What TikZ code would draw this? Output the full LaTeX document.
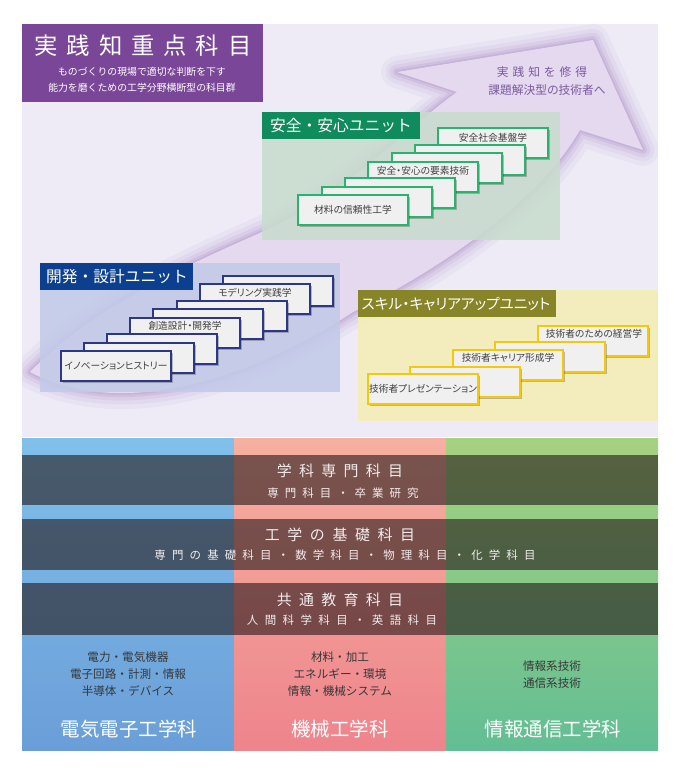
\documentclass[tikz,border=0pt]{standalone}
\usepackage{fontspec}
\setmainfont{Noto Sans CJK JP}
\newfontfamily\jpprop{Noto Sans CJK JP}[RawFeature=+palt]
\usetikzlibrary{shadows}

\definecolor{lavanda}{RGB}{238,235,246}
\definecolor{violaTit}{RGB}{122,70,152}
\definecolor{violaFr}{RGB}{150,100,180}
\definecolor{violaTesto}{RGB}{122,90,158}
\definecolor{frecciaFill}{RGB}{229,217,239}
\definecolor{pannV}{RGB}{200,220,206}
\definecolor{pannB}{RGB}{194,202,232}
\definecolor{pannY}{RGB}{244,237,182}
\definecolor{testV}{RGB}{16,140,92}
\definecolor{testB}{RGB}{12,64,142}
\definecolor{testY}{RGB}{135,133,40}
\definecolor{bordoV}{RGB}{40,180,110}
\definecolor{bordoB}{RGB}{45,55,135}
\definecolor{bordoY}{RGB}{245,200,10}
\definecolor{bluTop}{RGB}{128,192,234}
\definecolor{bluBot}{RGB}{106,158,216}
\definecolor{rosaTop}{RGB}{246,176,160}
\definecolor{rosaBot}{RGB}{238,132,140}
\definecolor{verdeTop}{RGB}{166,210,128}
\definecolor{verdeBot}{RGB}{98,190,148}
\definecolor{scuro}{RGB}{33,20,20}
\definecolor{testoChiaro}{RGB}{242,236,236}

% testo con spaziatura fra i caratteri
\newcommand{\spaziato}[2]{\def\spgap{#1}\spaziatoA#2\relax}
\def\spaziatoA#1{\ifx#1\relax\unskip\else#1\hskip\spgap\relax\expandafter\spaziatoA\fi}

\tikzset{
  carta/.style={draw, line width=1.1pt, fill=black!6, inner sep=0pt,
    minimum width=82.5pt, minimum height=22.5pt,
    drop shadow={shadow xshift=1.8pt, shadow yshift=-1.8pt, opacity=.3, fill=black!80}},
  cartaV/.style={carta, draw=bordoV},
  cartaB/.style={carta, draw=bordoB},
  cartaY/.style={carta, draw=bordoY},
  cartatesto/.style={inner sep=0pt, text=black!75, font=\jpprop\fontsize{7.3pt}{9pt}\selectfont},
  titolounita/.style={inner sep=0pt, text=white, font=\fontsize{11.8pt}{14pt}\selectfont},
  bagliore/.style={draw=violaFr, line join=round},
  fascia/.style={fill=scuro, fill opacity=.59},
  fasciatit/.style={inner sep=0pt, text=testoChiaro, font=\fontsize{11.2pt}{13pt}\selectfont},
  fasciasub/.style={inner sep=0pt, text=testoChiaro, font=\fontsize{8.6pt}{10pt}\selectfont},
  materie/.style={inner sep=0pt, align=center, text=black!78, font=\fontsize{8.7pt}{12.8pt}\selectfont},
  corso/.style={inner sep=0pt, text=white, font=\fontsize{14.6pt}{17pt}\selectfont}
}

\begin{document}
\begin{tikzpicture}[x=0.75pt,y=-0.75pt]
\useasboundingbox (0,0) rectangle (681,768);
% sfondo
\fill[lavanda] (22,24) rectangle (658,437);

% freccia
\path[save path=\freccia] (30,372) .. controls (90,310) and (180,268) .. (262,232)
  .. controls (345,195) and (410,125) .. (457,92) -- (397,72) -- (593,40) -- (643,150)
  -- (580,130) .. controls (540,200) and (440,270) .. (353,312)
  .. controls (250,380) and (120,420) .. (30,372) -- cycle;
\begin{scope}
  \clip (22,24) rectangle (658,437);
  \draw[bagliore, line width=24pt, draw opacity=.06, use path=\freccia];
  \draw[bagliore, line width=17pt, draw opacity=.08, use path=\freccia];
  \draw[bagliore, line width=11pt, draw opacity=.1, use path=\freccia];
  \draw[bagliore, line width=6pt, draw opacity=.12, use path=\freccia];
  \draw[bagliore, line width=2.5pt, draw opacity=.15, use path=\freccia];
  \fill[frecciaFill, use path=\freccia];
\end{scope}
\node[inner sep=0pt, text=violaTesto, font=\fontsize{8.8pt}{10pt}\selectfont] (meta1) at (542,72) {\spaziato{3pt}{実践知を修得}};
\node[inner sep=0pt, text=violaTesto, font=\fontsize{8.8pt}{10pt}\selectfont] (meta2) at (547,90) {課題解決型の技術者へ};

% titolo
\fill[violaTit] (22,24) rectangle (263,102);
\node[inner sep=0pt, text=white, font=\fontsize{17.5pt}{20pt}\selectfont] (tit) at (143,46) {\spaziato{6.7pt}{実践知重点科目}};
\node[inner sep=0pt, align=center, text=white, font=\fontsize{7.4pt}{12pt}\selectfont] (sottotit) at (142,80) {ものづくりの現場で適切な判断を下す\\能力を磨くための工学分野横断型の科目群};

% unita sicurezza
\fill[pannV, fill opacity=.88] (262,112) rectangle (560,240);
\fill[testV] (262,112) rectangle (420,139);
\node[titolounita] (hV) at (341,126) {安全・安心ユニット};
\node[cartaV] (v7) at (493,143) {};
\node[cartaV] (v6) at (470,160) {};
\node[cartaV] (v5) at (447,168) {};
\node[cartaV] (v4) at (423,177) {};
\node[cartaV] (v3) at (400,193) {};
\node[cartaV] (v2) at (377,202) {};
\node[cartaV] (v1) at (353,210) {};
\node[cartatesto] (tv7) at (493,138) {安全社会基盤学};
\node[cartatesto] (tv4) at (423,171) {安全・安心の要素技術};
\node[cartatesto] (tv1) at (353,210) {材料の信頼性工学};

% unita sviluppo
\fill[pannB, fill opacity=.88] (40,263) rectangle (340,392);
\fill[testB] (40,263) rectangle (193,290);
\node[titolounita] (hB) at (117,277) {開発・設計ユニット};
\node[cartaB] (b1) at (278,291) {};
\node[cartaB] (b2) at (255,299) {};
\node[cartaB] (b3) at (232,316) {};
\node[cartaB] (b4) at (208,324) {};
\node[cartaB] (b5) at (185,333) {};
\node[cartaB] (b6) at (162,349) {};
\node[cartaB] (b7) at (139,358) {};
\node[cartaB] (b8) at (116,366) {};
\node[cartatesto] (tb2) at (255,293) {モデリング実践学};
\node[cartatesto] (tb5) at (185,326) {創造設計・開発学};
\node[cartatesto] (tb8) at (116,366) {イノベーションヒストリー};

% unita carriera
\fill[pannY, fill opacity=.9] (358,290) rectangle (658,421);
\fill[testY] (358,290) rectangle (556,317);
\node[titolounita, font=\jpprop\fontsize{11pt}{13pt}\selectfont] (hY) at (456,304) {スキル・キャリアアップユニット};
\node[cartaY] (y1) at (593,341) {};
\node[cartaY] (y2) at (550,357) {};
\node[cartaY] (y3) at (508,365) {};
\node[cartaY] (y4) at (465,382) {};
\node[cartaY] (y5) at (423,389) {};
\node[cartatesto] (ty1) at (594,334) {技術者のための経営学};
\node[cartatesto] (ty3) at (508,358) {技術者キャリア形成学};
\node[cartatesto] (ty5) at (423,389) {技術者プレゼンテーション};

% colonne dei corsi
\shade[top color=bluTop, bottom color=bluBot] (22,438) rectangle (234,750);
\shade[top color=rosaTop, bottom color=rosaBot] (234,438) rectangle (446,750);
\shade[top color=verdeTop, bottom color=verdeBot] (446,438) rectangle (658,750);

% fasce scure
\fill[fascia] (22,455) rectangle (658,505);
\fill[fascia] (22,519) rectangle (658,570);
\fill[fascia] (22,583) rectangle (658,635);
\node[fasciatit] (f1) at (340,471) {\spaziato{5.5pt}{学科専門科目}};
\node[fasciasub] (f1s) at (343,493) {\spaziato{4.5pt}{専門科目・卒業研究}};
\node[fasciatit] (f2) at (340,535) {\spaziato{5.7pt}{工学の基礎科目}};
\node[fasciasub] (f2s) at (345,555) {\spaziato{4.6pt}{専門の基礎科目・数学科目・物理科目・化学科目}};
\node[fasciatit] (f3) at (340,600) {\spaziato{5.5pt}{共通教育科目}};
\node[fasciasub] (f3s) at (342,620) {\spaziato{4.8pt}{人間科学科目・英語科目}};

% materie e corsi
\node[materie] (m1) at (128,674) {電力・電気機器\\電子回路・計測・情報\\半導体・デバイス};
\node[materie] (m2) at (340,674) {材料・加工\\エネルギー・環境\\情報・機械システム};
\node[materie] (m3) at (552,675) {情報系技術\\通信系技術};
\node[corso] (c1) at (129,729) {電気電子工学科};
\node[corso] (c2) at (340,729) {機械工学科};
\node[corso] (c3) at (553,729) {情報通信工学科};
\end{tikzpicture}
\end{document}
